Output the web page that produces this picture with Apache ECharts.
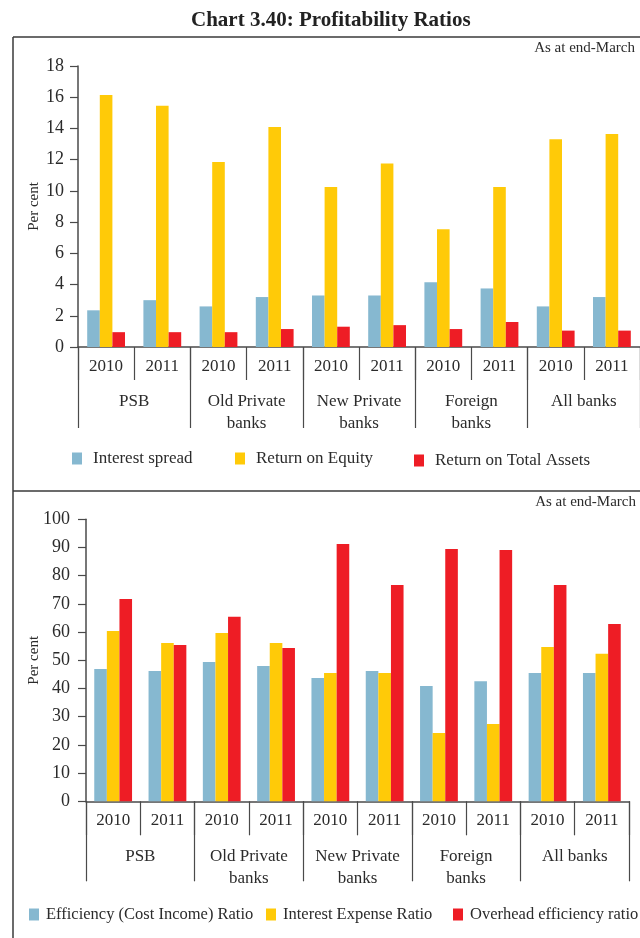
<!DOCTYPE html>
<html>
<head>
<meta charset="utf-8">
<script src="https://cdn.jsdelivr.net/npm/echarts@6/dist/echarts.min.js"></script>
<style>
  html, body { margin: 0; padding: 0; background: #fff; }
  #chart { width: 640px; height: 938px; }
</style>
</head>
<body>
<div id="chart"></div>
<script>
// Bank groups and years (two-level category axis)
const groups = ['PSB', 'Old Private\nbanks', 'New Private\nbanks', 'Foreign\nbanks', 'All banks'];
const years = ['2010', '2011', '2010', '2011', '2010', '2011', '2010', '2011', '2010', '2011'];

// Upper panel: profitability (per cent)
const interestSpread = [2.35, 3.0, 2.6, 3.2, 3.3, 3.3, 4.15, 3.75, 2.6, 3.2];
const returnOnEquity = [16.15, 15.45, 11.85, 14.1, 10.25, 11.75, 7.55, 10.25, 13.3, 13.65];
const returnOnAssets = [0.95, 0.95, 0.95, 1.15, 1.3, 1.4, 1.15, 1.6, 1.05, 1.05];

// Lower panel: efficiency ratios (per cent)
const efficiencyRatio = [46.9, 46.2, 49.4, 48.0, 43.7, 46.2, 40.9, 42.6, 45.5, 45.5];
const interestExpenseRatio = [60.4, 56.1, 59.7, 56.1, 45.5, 45.5, 24.2, 27.4, 54.7, 52.3];
const overheadEfficiency = [71.7, 55.4, 65.4, 54.4, 91.2, 76.7, 89.5, 89.1, 76.7, 62.9];

const FONT = '"Liberation Serif", "Times New Roman", serif';
const INK = '#2b2b2b';
const AXIS = '#4a4a4a';
const BLUE = '#86B8D0', YELLOW = '#FFCA08', RED = '#EE1D25';

function yearAxis(gridIndex, tickLen) {
  return {
    type: 'category', gridIndex, data: years, position: 'bottom',
    axisLine: { show: true, lineStyle: { color: AXIS, width: 1.5 } },
    axisTick: { show: true, interval: 0, length: tickLen, lineStyle: { color: AXIS, width: 1.2 } },
    axisLabel: { interval: 0, margin: 9, fontFamily: FONT, fontSize: 17, color: INK, lineHeight: 21 }
  };
}
function groupAxis(gridIndex, tickLen) {
  return {
    type: 'category', gridIndex, data: groups, position: 'bottom',
    axisLine: { show: false },
    axisTick: { show: true, interval: 0, length: tickLen, lineStyle: { color: AXIS, width: 1.2 } },
    axisLabel: { interval: 0, margin: 44, fontFamily: FONT, fontSize: 17, color: INK, lineHeight: 22 }
  };
}
function valueAxis(gridIndex, max, interval, nameGap, labelMargin) {
  return {
    type: 'value', gridIndex, min: 0, max, interval,
    name: 'Per cent', nameLocation: 'middle', nameGap, nameMoveOverlap: false,
    nameTextStyle: { fontFamily: FONT, fontSize: 15, color: INK },
    axisLine: { show: true, lineStyle: { color: AXIS, width: 1.5 } },
    axisTick: { show: true, length: 8, lineStyle: { color: AXIS, width: 1.2 } },
    axisLabel: { margin: labelMargin, fontFamily: FONT, fontSize: 18, color: INK },
    splitLine: { show: false }
  };
}
function bar(name, data, color, xAxisIndex, yAxisIndex) {
  return {
    type: 'bar', name, data, xAxisIndex, yAxisIndex,
    barWidth: 12.6, barGap: '0%',
    itemStyle: { color },
    emphasis: { disabled: true }
  };
}
function legendItem(name, left, top, pad, size) {
  return {
    data: [name], left, top, itemWidth: 10, itemHeight: 12, icon: 'rect',
    selectedMode: false,
    textStyle: { fontFamily: FONT, fontSize: size, color: INK, padding: [0, 0, 0, pad] }
  };
}
function frameLine(x1, y1, x2, y2) {
  return { type: 'line', silent: true, shape: { x1, y1, x2, y2 }, style: { stroke: '#3a3a3a', lineWidth: 1.5 } };
}

const chart = echarts.init(document.getElementById('chart'), null, { renderer: 'canvas' });
chart.setOption({
  animation: false,
  backgroundColor: '#fff',
  title: {
    text: 'Chart 3.40: Profitability Ratios', left: 186, top: 5,
    textStyle: { fontFamily: FONT, fontSize: 21, fontWeight: 'bold', color: '#222' }
  },
  grid: [
    { left: 78, top: 66, width: 562, height: 281, containLabel: false, outerBoundsMode: 'none' },
    { left: 86, top: 519.3, width: 543, height: 282, containLabel: false, outerBoundsMode: 'none' }
  ],
  xAxis: [yearAxis(0, 33), groupAxis(0, 81), yearAxis(1, 34), groupAxis(1, 80)],
  yAxis: [valueAxis(0, 18, 2, 36, 14), valueAxis(1, 100, 10, 44, 16)],
  legend: [
    legendItem('Interest spread', 67, 445, 6, 17),
    legendItem('Return on Equity', 230, 445, 6, 17),
    legendItem('Return on Total Assets', 409, 447, 6, 17),
    legendItem('Efficiency (Cost Income) Ratio', 24, 901, 2, 16.5),
    legendItem('Interest Expense Ratio', 261, 901, 2, 16.5),
    legendItem('Overhead efficiency ratio', 448, 901, 2, 16.5)
  ],
  series: [
    bar('Interest spread', interestSpread, BLUE, 0, 0),
    bar('Return on Equity', returnOnEquity, YELLOW, 0, 0),
    bar('Return on Total Assets', returnOnAssets, RED, 0, 0),
    bar('Efficiency (Cost Income) Ratio', efficiencyRatio, BLUE, 2, 1),
    bar('Interest Expense Ratio', interestExpenseRatio, YELLOW, 2, 1),
    bar('Overhead efficiency ratio', overheadEfficiency, RED, 2, 1)
  ],
  graphic: [
    frameLine(13, 37, 640, 37),
    frameLine(13, 37, 13, 938),
    frameLine(13, 491, 640, 491),
    { type: 'text', right: 5, top: 41, silent: true,
      style: { text: 'As at end-March', font: '15px ' + FONT, fill: INK } },
    { type: 'text', right: 4, top: 495, silent: true,
      style: { text: 'As at end-March', font: '15px ' + FONT, fill: INK } }
  ]
});
</script>
</body>
</html>
